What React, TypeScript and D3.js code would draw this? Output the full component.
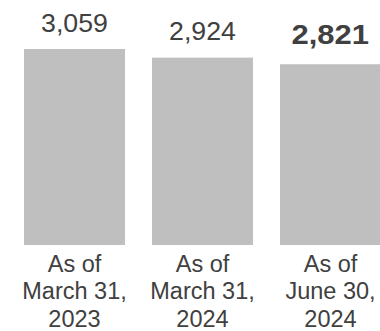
import React from "react";
import * as d3 from "d3";

const categories = ["2023-03", "2024-03", "2024-06"];
const values = [3059, 2924, 2821];
const valueLabels = ["3,059", "2,924", "2,821"];
const boldFlags = [false, false, true];
const axisLabels = [
  ["As of", "March 31,", "2023"],
  ["As of", "March 31,", "2024"],
  ["As of", "June 30,", "2024"],
];

const W = 380;
const H = 331;

export default function App() {
  const x = d3
    .scaleBand<string>()
    .domain(categories)
    .range([10.5, 394.5])
    .paddingInner(27 / 128)
    .paddingOuter(27 / 256);
  const y = d3.scaleLinear().domain([0, 3059]).range([245, 49]);

  return (
    <div style={{ position: "absolute", left: 0, top: 0 }}>
      <svg width={W} height={H} style={{ display: "block" }}>
        <rect width={W} height={H} fill="#ffffff" />
        {categories.map((c, i) => {
          const x0 = x(c)!;
          const cx = x0 + x.bandwidth() / 2;
          const ly = y(values[i]) - (boldFlags[i] ? 20 : 17.3);
          return (
            <g key={c}>
              <rect
                x={x0}
                y={y(values[i])}
                width={x.bandwidth()}
                height={y(0) - y(values[i])}
                fill="#BFBFBF"
              />
              <text
                transform={`translate(${boldFlags[i] ? cx - 0.3 : cx},${ly}) scale(${boldFlags[i] ? 1.16 : 1},1)`}
                textAnchor="middle"
                fontFamily="'Liberation Sans', Arial, sans-serif"
                fontSize={26.7}
                fontWeight={boldFlags[i] ? "bold" : "normal"}
                fill="#404040"
              >
                {valueLabels[i]}
              </text>
              {axisLabels[i].map((line, j) => (
                <text
                  key={j}
                  x={cx}
                  y={271.7 + j * 27.6}
                  textAnchor="middle"
                  fontFamily="'Liberation Sans', Arial, sans-serif"
                  fontSize={23.5}
                  fill="#404040"
                >
                  {line}
                </text>
              ))}
            </g>
          );
        })}
      </svg>
    </div>
  );
}
